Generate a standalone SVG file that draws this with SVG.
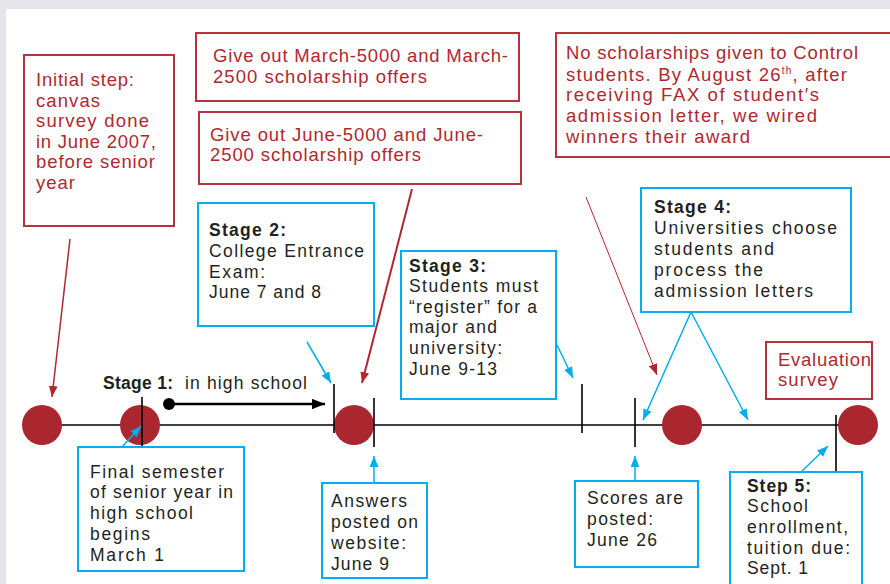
<svg xmlns="http://www.w3.org/2000/svg" width="890" height="584" viewBox="0 0 890 584">
<defs>
<style>
.rbox{fill:#fff;stroke:#b3343b;stroke-width:2}
.bbox{fill:#fff;stroke:#00aeef;stroke-width:2}
.rt{font-family:"Liberation Sans",Arial,sans-serif;font-size:18.5px;fill:#b0282f}
.bt{font-family:"Liberation Sans",Arial,sans-serif;font-size:17.5px;fill:#231f20}
.b{font-weight:bold}
.bl{stroke:#00aeef;stroke-width:1.5;fill:none}
.rl{stroke:#b0282f;fill:none}
.tick{stroke:#000;stroke-width:1.6}
.dot{fill:#ab2730}
</style>
<marker id="ab" viewBox="0 0 10 8" refX="10" refY="4" markerWidth="11" markerHeight="9" orient="auto" markerUnits="userSpaceOnUse"><path d="M0,0 L10,4 L0,8 Z" fill="#00aeef"/></marker>
<marker id="ar" viewBox="0 0 10 8" refX="10" refY="4" markerWidth="11" markerHeight="9" orient="auto" markerUnits="userSpaceOnUse"><path d="M0,0 L10,4 L0,8 Z" fill="#b0282f"/></marker>
<marker id="ak" viewBox="0 0 10 8" refX="10" refY="4" markerWidth="13" markerHeight="11" orient="auto" markerUnits="userSpaceOnUse"><path d="M0,0 L10,4 L0,8 Z" fill="#000"/></marker>
</defs>
<rect x="0" y="0" width="890" height="584" fill="#e6e4ea"/>
<rect x="6" y="9" width="884" height="575" fill="#fff"/>

<g id="timeline">
<line x1="42" y1="425" x2="858" y2="425" stroke="#000" stroke-width="1.5"/>
<circle class="dot" cx="42" cy="425" r="20"/>
<circle class="dot" cx="140" cy="425" r="20"/>
<circle class="dot" cx="354" cy="425" r="20"/>
<circle class="dot" cx="682" cy="425" r="20"/>
<circle class="dot" cx="858" cy="425" r="20"/>
<line class="tick" x1="142" y1="397" x2="142" y2="447"/>
<line class="tick" x1="334" y1="384" x2="334" y2="433"/>
<line class="tick" x1="374" y1="398" x2="374" y2="447"/>
<line class="tick" x1="582" y1="384" x2="582" y2="433"/>
<line class="tick" x1="635" y1="398" x2="635" y2="447"/>
<line class="tick" x1="836" y1="415" x2="836" y2="472"/>
</g>

<g id="initial-step">
<rect class="rbox" x="24" y="55" width="150" height="171"/>
<text class="rt"><tspan x="36" y="86" textLength="98">Initial step:</tspan><tspan x="36" y="107" textLength="64">canvas</tspan><tspan x="36" y="127" textLength="113">survey done</tspan><tspan x="36" y="148" textLength="120">in June 2007,</tspan><tspan x="36" y="168" textLength="119">before senior</tspan><tspan x="36" y="189" textLength="39">year</tspan></text>
</g>

<g id="march-offers">
<rect class="rbox" x="196" y="33" width="323" height="68"/>
<text class="rt"><tspan x="213" y="62" textLength="295">Give out March-5000 and March-</tspan><tspan x="213" y="83" textLength="214">2500 scholarship offers</tspan></text>
</g>

<g id="june-offers">
<rect class="rbox" x="199" y="112" width="322" height="72"/>
<text class="rt"><tspan x="210" y="141" textLength="273">Give out June-5000 and June-</tspan><tspan x="210" y="161" textLength="211">2500 scholarship offers</tspan></text>
</g>

<g id="no-scholarships">
<rect class="rbox" x="556" y="33" width="340" height="124"/>
<text class="rt" x="566" y="59" textLength="292">No scholarships given to Control</text>
<text class="rt" x="566" y="81" textLength="281">students. By August 26<tspan font-size="10" dy="-7">th</tspan><tspan dy="7">, after</tspan></text>
<text class="rt" x="566" y="101" textLength="253">receiving FAX of student′s</text>
<text class="rt" x="566" y="122" textLength="251">admission letter, we wired</text>
<text class="rt" x="566" y="143" textLength="184">winners their award</text>
</g>

<g id="stage2">
<rect class="bbox" x="198" y="203" width="176" height="123"/>
<text class="bt"><tspan class="b" x="209" y="236" textLength="77">Stage 2:</tspan><tspan x="209" y="257" textLength="155">College Entrance</tspan><tspan x="209" y="278" textLength="56">Exam:</tspan><tspan x="209" y="298" textLength="112">June 7 and 8</tspan></text>
</g>

<g id="stage3">
<rect class="bbox" x="401" y="251" width="155" height="148"/>
<text class="bt"><tspan class="b" x="409" y="272" textLength="77">Stage 3:</tspan><tspan x="409" y="292" textLength="129">Students must</tspan><tspan x="409" y="313" textLength="128">“register” for a</tspan><tspan x="409" y="333" textLength="88">major and</tspan><tspan x="409" y="354" textLength="93">university:</tspan><tspan x="409" y="375" textLength="88">June 9-13</tspan></text>
</g>

<g id="stage4">
<rect class="bbox" x="641" y="188" width="210" height="124"/>
<text class="bt"><tspan class="b" x="654" y="213" textLength="77">Stage 4:</tspan><tspan x="654" y="234" textLength="183">Universities choose</tspan><tspan x="654" y="255" textLength="120">students and</tspan><tspan x="654" y="276" textLength="109">process the</tspan><tspan x="654" y="297" textLength="159">admission letters</tspan></text>
</g>

<g id="evaluation">
<rect class="rbox" x="766" y="342" width="106" height="57"/>
<text class="rt"><tspan x="778" y="366" textLength="93">Evaluation</tspan><tspan x="778" y="386" textLength="60">survey</tspan></text>
</g>

<g id="stage1">
<text class="bt"><tspan class="b" x="103" y="389" textLength="70">Stage 1:</tspan><tspan x="185" y="389" textLength="122">in high school</tspan></text>
<circle cx="169" cy="404" r="6" fill="#000"/>
<line x1="169" y1="404" x2="325" y2="404" stroke="#000" stroke-width="2.5" marker-end="url(#ak)"/>
</g>

<g id="final-semester">
<rect class="bbox" x="78" y="447" width="166" height="124"/>
<text class="bt"><tspan x="90" y="478" textLength="134">Final semester</tspan><tspan x="90" y="498" textLength="143">of senior year in</tspan><tspan x="90" y="519" textLength="103">high school</tspan><tspan x="90" y="540" textLength="60">begins</tspan><tspan x="90" y="561" textLength="74">March  1</tspan></text>
</g>

<g id="answers">
<rect class="bbox" x="322" y="483" width="105" height="95"/>
<text class="bt"><tspan x="331" y="507" textLength="76">Answers</tspan><tspan x="331" y="528" textLength="87">posted on</tspan><tspan x="331" y="549" textLength="75">website:</tspan><tspan x="331" y="570" textLength="58">June 9</tspan></text>
</g>

<g id="scores">
<rect class="bbox" x="575" y="481" width="123" height="86"/>
<text class="bt"><tspan x="587" y="504" textLength="96">Scores are</tspan><tspan x="587" y="525" textLength="66">posted:</tspan><tspan x="587" y="546" textLength="70">June 26</tspan></text>
</g>

<g id="step5">
<rect class="bbox" x="730" y="472" width="132" height="120"/>
<text class="bt"><tspan class="b" x="747" y="492" textLength="64">Step 5:</tspan><tspan x="747" y="512" textLength="61">School</tspan><tspan x="747" y="533" textLength="101">enrollment,</tspan><tspan x="747" y="554" textLength="103">tuition due:</tspan><tspan x="747" y="574" textLength="61">Sept. 1</tspan></text>
</g>

<g id="connectors">
<line class="rl" stroke-width="1.5" x1="70" y1="239" x2="52" y2="397" marker-end="url(#ar)"/>
<line class="rl" stroke-width="2" x1="412" y1="189" x2="362" y2="383" marker-end="url(#ar)"/>
<line class="rl" stroke-width="1" x1="586" y1="197" x2="657" y2="375" marker-end="url(#ar)"/>
<line class="bl" x1="122" y1="447" x2="141" y2="426" marker-end="url(#ab)"/>
<line class="bl" x1="307" y1="342" x2="331" y2="383" marker-end="url(#ab)"/>
<line class="bl" x1="557" y1="345" x2="573" y2="378" marker-end="url(#ab)"/>
<line class="bl" x1="374" y1="483" x2="374" y2="456" marker-end="url(#ab)"/>
<line class="bl" x1="635" y1="481" x2="635" y2="456" marker-end="url(#ab)"/>
<line class="bl" x1="691" y1="312" x2="643" y2="420" marker-end="url(#ab)"/>
<line class="bl" x1="691" y1="312" x2="748" y2="420" marker-end="url(#ab)"/>
<line class="bl" x1="801" y1="472" x2="828" y2="446" marker-end="url(#ab)"/>
</g>
</svg>
